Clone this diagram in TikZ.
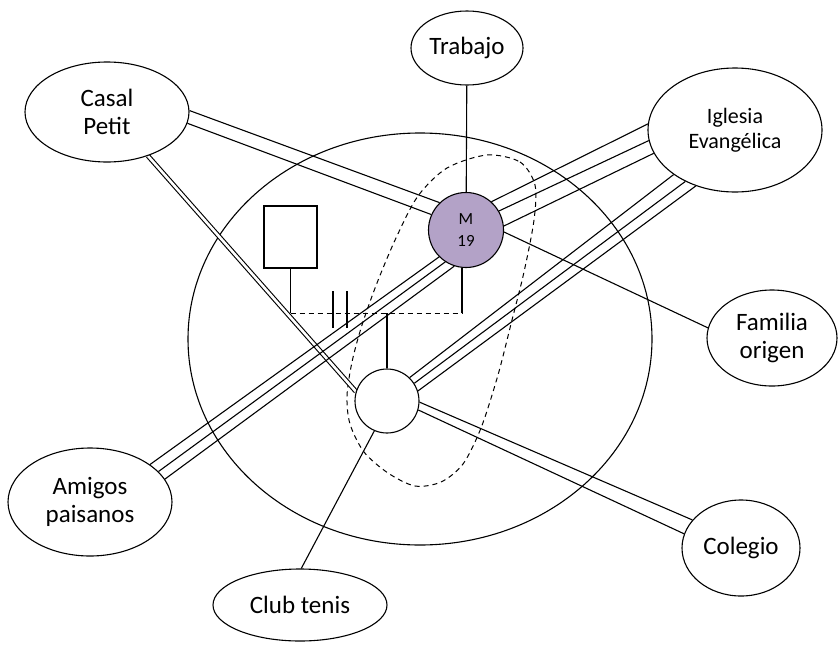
\documentclass[tikz,border=0pt]{standalone}
\usepackage{fontspec}
\setmainfont{Carlito}
\usetikzlibrary{shapes.geometric}
\pgfdeclarelayer{background}
\pgfsetlayers{background,main}
\definecolor{egofill}{RGB}{179,162,199}
\begin{document}
\begin{tikzpicture}[x=1pt,y=-1pt,line width=1.1pt,
  every node/.style={inner sep=0pt, align=center, font=\fontsize{25}{28}\selectfont},
  sys/.style={draw, ellipse, fill=white},
  person/.style={draw, circle, fill=white},
  tie/.style={line width=1.1pt},
  twin/.style={double, double distance=2.6pt, line width=1.1pt},
  outline/.style={line width=1pt, dash pattern=on 5pt off 4pt},
  divorce/.style={line width=1.1pt}]

\useasboundingbox (0,0) rectangle (838,651);

% ---- surrounding systems ----
\node[sys, minimum width=112pt, minimum height=74pt] (trabajo) at (467,48) {Trabajo};
\node[sys, minimum width=164pt, minimum height=100pt] (casal) at (107,112) {Casal\\Petit};
\node[sys, minimum width=174pt, minimum height=124pt, font=\fontsize{22}{25}\selectfont] (iglesia) at (735,130) {Iglesia\\Evangélica};
\node[sys, minimum width=130pt, minimum height=96pt] (familia) at (772,338) {Familia\\origen};
\node[sys, minimum width=164pt, minimum height=108pt] (amigos) at (90,502) {Amigos\\paisanos};
\node[sys, minimum width=118pt, minimum height=96pt] (colegio) at (741,548) {Colegio};
\node[sys, minimum width=174pt, minimum height=72pt] (club) at (300,605) {Club tenis};

% ---- household ----
\node[person, fill=egofill, minimum size=75pt, font=\fontsize{17}{22}\selectfont] (m19) at (466,230) {M\\19};
\node[person, minimum size=64pt] (child) at (387,401) {};
\node[draw, fill=white, minimum width=53pt, minimum height=62pt] (father) at (290.5,237) {};

% genogram links
\coordinate (union) at (0,313);
\draw (father.south) -- (father.south |- union);
\draw (m19.-96) -- (m19.-96 |- union);
\draw[outline] (father.south |- union) -- (m19.-96 |- union);
\draw[divorce] (333,291) -- (333,328) (347,291) -- (347,328);
\draw (child.north) -- (child.north |- union);

\begin{pgfonlayer}{background}
\begin{scope}[tie]
  % home boundary and household outline
  \draw (420,339) ellipse [x radius=232pt, y radius=206pt];
  \draw[outline] plot[smooth cycle] coordinates {
    (487,155) (520,162) (535,185) (534,220) (524,272) (512,320) (498,375)
    (481,428) (463,464) (441,482) (415,486) (388,473) (364,452) (350,424)
    (347,396) (352,362) (362,325) (377,283) (396,238) (418,196) (447,168)};

  % single ties
  \draw (trabajo) -- (m19);
  \draw (m19.-3) -- (familia.171);
  \draw (child.247) -- (club.88);

  % double ties
  \draw (casal.1) -- (m19.134);
  \draw (casal.-8) -- (m19.156);
  \draw[twin] (casal.-47) -- (child.163);
  \draw (child.-2) -- (colegio.150);
  \draw (child.-16) -- (colegio.166);

  % triple ties
  \draw (iglesia.176) -- (m19.48);
  \draw (iglesia.187) -- (m19.30);
  \draw (iglesia.196) -- (m19.6);
  \draw (iglesia.216) -- (child.46);
  \draw (iglesia.226) -- (child.33);
  \draw (iglesia.235) -- (child.18);
  \draw (amigos.32) -- (m19.225);
  \draw (amigos.24) -- (m19.237);
  \draw (amigos.17) -- (m19.252);
\end{scope}
\end{pgfonlayer}
\end{tikzpicture}
\end{document}
